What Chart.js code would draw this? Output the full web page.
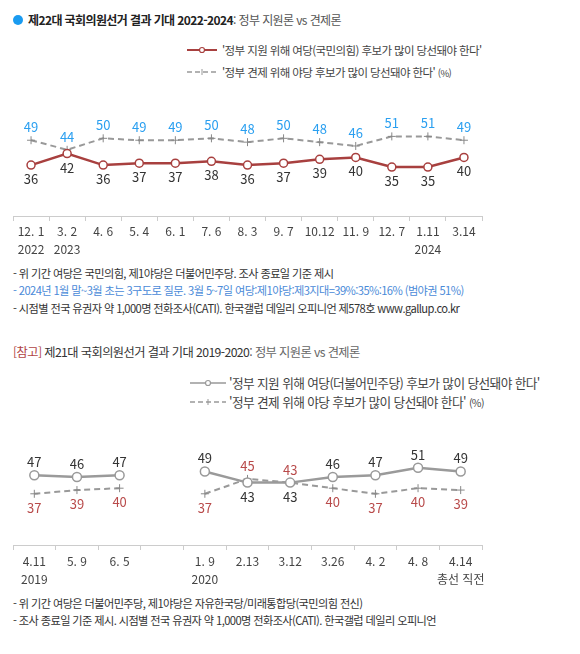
<!DOCTYPE html>
<html lang="ko">
<head>
<meta charset="UTF-8">
<title>국회의원선거 결과 기대</title>
<script src="https://cdn.jsdelivr.net/npm/chart.js"></script>
<style>
    body { margin: 0; width: 580px; height: 654px; background: #fff; position: relative; overflow: hidden;
           font-family: "Noto Sans CJK KR", "Noto Sans", sans-serif; color: #333; }
    .t { position: absolute; white-space: nowrap; line-height: 16px; letter-spacing: -0.6px; }
    .title { font-size: 12px; font-weight: bold; color: #222; }
    .title span { font-weight: normal; color: #555; }
    .note { font-size: 11.2px; color: #333; }
    .leg { font-size: 11.5px; color: #444; }
    .leg2 { font-size: 12.7px; color: #444; }
    .dot { position: absolute; left: 13px; top: 15px; width: 10px; height: 10px; border-radius: 50%; background: #1a9bf0; }
    canvas { position: absolute; }
</style>
</head>
<body>
    <div class="dot"></div>
    <div class="t title" style="left:28px; top:12px;">제22대 국회의원선거 결과 기대 2022-2024<span>: 정부 지원론 vs 견제론</span></div>

    <svg style="position:absolute; left:185px; top:44px;" width="34" height="12">
        <line x1="2" y1="6" x2="32" y2="6" stroke="#a8403f" stroke-width="2"/>
        <circle cx="17" cy="6" r="2.5" fill="#fff" stroke="#a8403f" stroke-width="1.2"/>
    </svg>
    <div class="t leg" style="left:222px; top:42px;">'정부 지원 위해 여당(국민의힘) 후보가 많이 당선돼야 한다'</div>
    <svg style="position:absolute; left:185px; top:66px;" width="34" height="12">
        <line x1="2" y1="6" x2="32" y2="6" stroke="#999" stroke-width="1.6" stroke-dasharray="5,3"/>
        <line x1="17" y1="3" x2="17" y2="9" stroke="#999" stroke-width="1"/>
    </svg>
    <div class="t leg" style="left:222px; top:64px;">'정부 견제 위해 야당 후보가 많이 당선돼야 한다' <span style="font-size:9.5px">(%)</span></div>

    <canvas id="chart1" width="500" height="159" style="left:0; top:100px; width:500px; height:159px;"></canvas>

    <div class="t note" style="left:13px; top:265px;">- 위 기간 여당은 국민의힘, 제1야당은 더불어민주당. 조사 종료일 기준 제시</div>
    <div class="t note" style="left:13px; top:282px; color:#4a8ad8;">- 2024년 1월 말~3월 초는 3구도로 질문. 3월 5~7일 여당:제1야당:제3지대=39%:35%:16% (범야권 51%)</div>
    <div class="t note" style="left:13px; top:300px;">- 시점별 전국 유권자 약 1,000명 전화조사(CATI). 한국갤럽 데일리 오피니언 제578호 www.gallup.co.kr</div>

    <div class="t title" style="left:13px; top:344px; font-size:12.25px; font-weight:normal; color:#333;"><span style="color:#b04444;">[참고]</span> 제21대 국회의원선거 결과 기대 2019-2020<span style="color:#666;">: 정부 지원론 vs 견제론</span></div>

    <svg style="position:absolute; left:188px; top:377px;" width="40" height="12">
        <line x1="2" y1="6" x2="38" y2="6" stroke="#999" stroke-width="1.6"/>
        <circle cx="20" cy="6" r="2.5" fill="#fff" stroke="#999" stroke-width="1.2"/>
    </svg>
    <div class="t leg2" style="left:229px; top:375px;">'정부 지원 위해 여당(더불어민주당) 후보가 많이 당선돼야 한다'</div>
    <svg style="position:absolute; left:188px; top:396px;" width="40" height="12">
        <line x1="2" y1="6" x2="38" y2="6" stroke="#999" stroke-width="1.6" stroke-dasharray="5,3"/>
        <line x1="20" y1="3" x2="20" y2="9" stroke="#999" stroke-width="1"/>
    </svg>
    <div class="t leg2" style="left:229px; top:394px;">'정부 견제 위해 야당 후보가 많이 당선돼야 한다' <span style="font-size:10.5px">(%)</span></div>

    <canvas id="chart2" width="500" height="160" style="left:0; top:430px; width:500px; height:160px;"></canvas>

    <div class="t note" style="left:13px; top:595px;">- 위 기간 여당은 더불어민주당, 제1야당은 자유한국당/미래통합당(국민의힘 전신)</div>
    <div class="t note" style="left:13px; top:612px;">- 조사 종료일 기준 제시. 시점별 전국 유권자 약 1,000명 전화조사(CATI). 한국갤럽 데일리 오피니언</div>

<script>
    // 제22대 (2022-2024)
    const labels22 = [["12. 1", "2022"], ["3. 2", "2023"], "4. 6", "5. 4", "6. 1", "7. 6", "8. 3",
                      "9. 7", "10.12", "11. 9", "12. 7", ["1.11", "2024"], "3.14"];
    const support22 = [36, 42, 36, 37, 37, 38, 36, 37, 39, 40, 35, 35, 40];
    const check22   = [49, 44, 50, 49, 49, 50, 48, 50, 48, 46, 51, 51, 49];

    // 제21대 (2019-2020), 빈 칸은 연도 구분
    const labels21 = [["4.11", "2019"], "5. 9", "6. 5", "", ["1. 9", "2020"], "2.13", "3.12",
                      "3.26", "4. 2", "4. 8", ["4.14", "총선 직전"]];
    const support21 = [47, 46, 47, null, 49, 43, 43, 46, 47, 51, 49];
    const check21   = [37, 39, 40, null, 37, 45, 43, 40, 37, 40, 39];

    const FONT = '"Noto Sans CJK KR", "Noto Sans", sans-serif';

    // value labels: higher series above the point, lower one below
    const valueLabels = {
        id: "valueLabels",
        afterDatasetsDraw(chart, args, opts) {
            const ctx = chart.ctx;
            const m0 = chart.getDatasetMeta(0), m1 = chart.getDatasetMeta(1);
            const d0 = chart.data.datasets[0].data, d1 = chart.data.datasets[1].data;
            ctx.save();
            ctx.font = "13px " + FONT;
            ctx.textAlign = "center";
            ctx.textBaseline = "middle";
            for (let i = 0; i < d0.length; i++) {
                if (d0[i] == null) continue;
                const up0 = d0[i] > d1[i];
                const p0 = m0.data[i], p1 = m1.data[i];
                ctx.fillStyle = opts.colors[0];
                ctx.fillText(d0[i], p0.x, up0 ? p0.y - 13 : p0.y + 14);
                ctx.fillStyle = opts.colors[1];
                ctx.fillText(d1[i], p1.x, up0 ? p1.y + 14 : p1.y - 13);
            }
            ctx.restore();
        }
    };

    function xAxis(pad) {
        return {
            offset: true,
            grid: { offset: true, drawOnChartArea: false, tickLength: 5, color: "#ccc" },
            border: { display: true, color: "#ccc" },
            ticks: { color: "#444", font: { family: FONT, size: 12, lineHeight: 1.5 }, padding: pad,
                     maxRotation: 0, autoSkip: false }
        };
    }

    new Chart("chart1", {
        type: "line",
        data: {
            labels: labels22,
            datasets: [{
                data: support22,
                borderColor: "#a8403f",
                borderWidth: 2.5,
                pointRadius: 4,
                pointBorderWidth: 1.5,
                pointBackgroundColor: "#fff",
                pointBorderColor: "#a8403f"
            }, {
                data: check22,
                borderColor: "#999",
                borderWidth: 2,
                borderDash: [6, 4],
                pointStyle: "cross",
                pointRadius: 4,
                pointBorderWidth: 1,
                pointBorderColor: "#888"
            }]
        },
        options: {
            responsive: false,
            animation: false,
            layout: { padding: { left: 13, right: 18, top: 10, bottom: 0 } },
            plugins: { legend: { display: false }, tooltip: { enabled: false },
                       valueLabels: { colors: ["#333", "#2a9ff0"] } },
            scales: {
                x: xAxis(1),
                y: { display: false, min: 9.4, max: 64.8 }
            }
        },
        plugins: [valueLabels]
    });

    new Chart("chart2", {
        type: "line",
        data: {
            labels: labels21,
            datasets: [{
                data: support21,
                borderColor: "#9a9a9a",
                borderWidth: 2.5,
                pointRadius: 4.5,
                pointBorderWidth: 1.5,
                pointBackgroundColor: "#fff",
                pointBorderColor: "#999"
            }, {
                data: check21,
                borderColor: "#999",
                borderWidth: 2,
                borderDash: [6, 4],
                pointStyle: "cross",
                pointRadius: 4,
                pointBorderWidth: 1,
                pointBorderColor: "#888"
            }]
        },
        options: {
            responsive: false,
            animation: false,
            layout: { padding: { left: 13, right: 18, top: 15, bottom: 0 } },
            plugins: { legend: { display: false }, tooltip: { enabled: false },
                       valueLabels: { colors: ["#333", "#b84a4a"] } },
            scales: {
                x: xAxis(2),
                y: { display: false, min: 9.5, max: 63.2 }
            }
        },
        plugins: [valueLabels]
    });
</script>
</body>
</html>
